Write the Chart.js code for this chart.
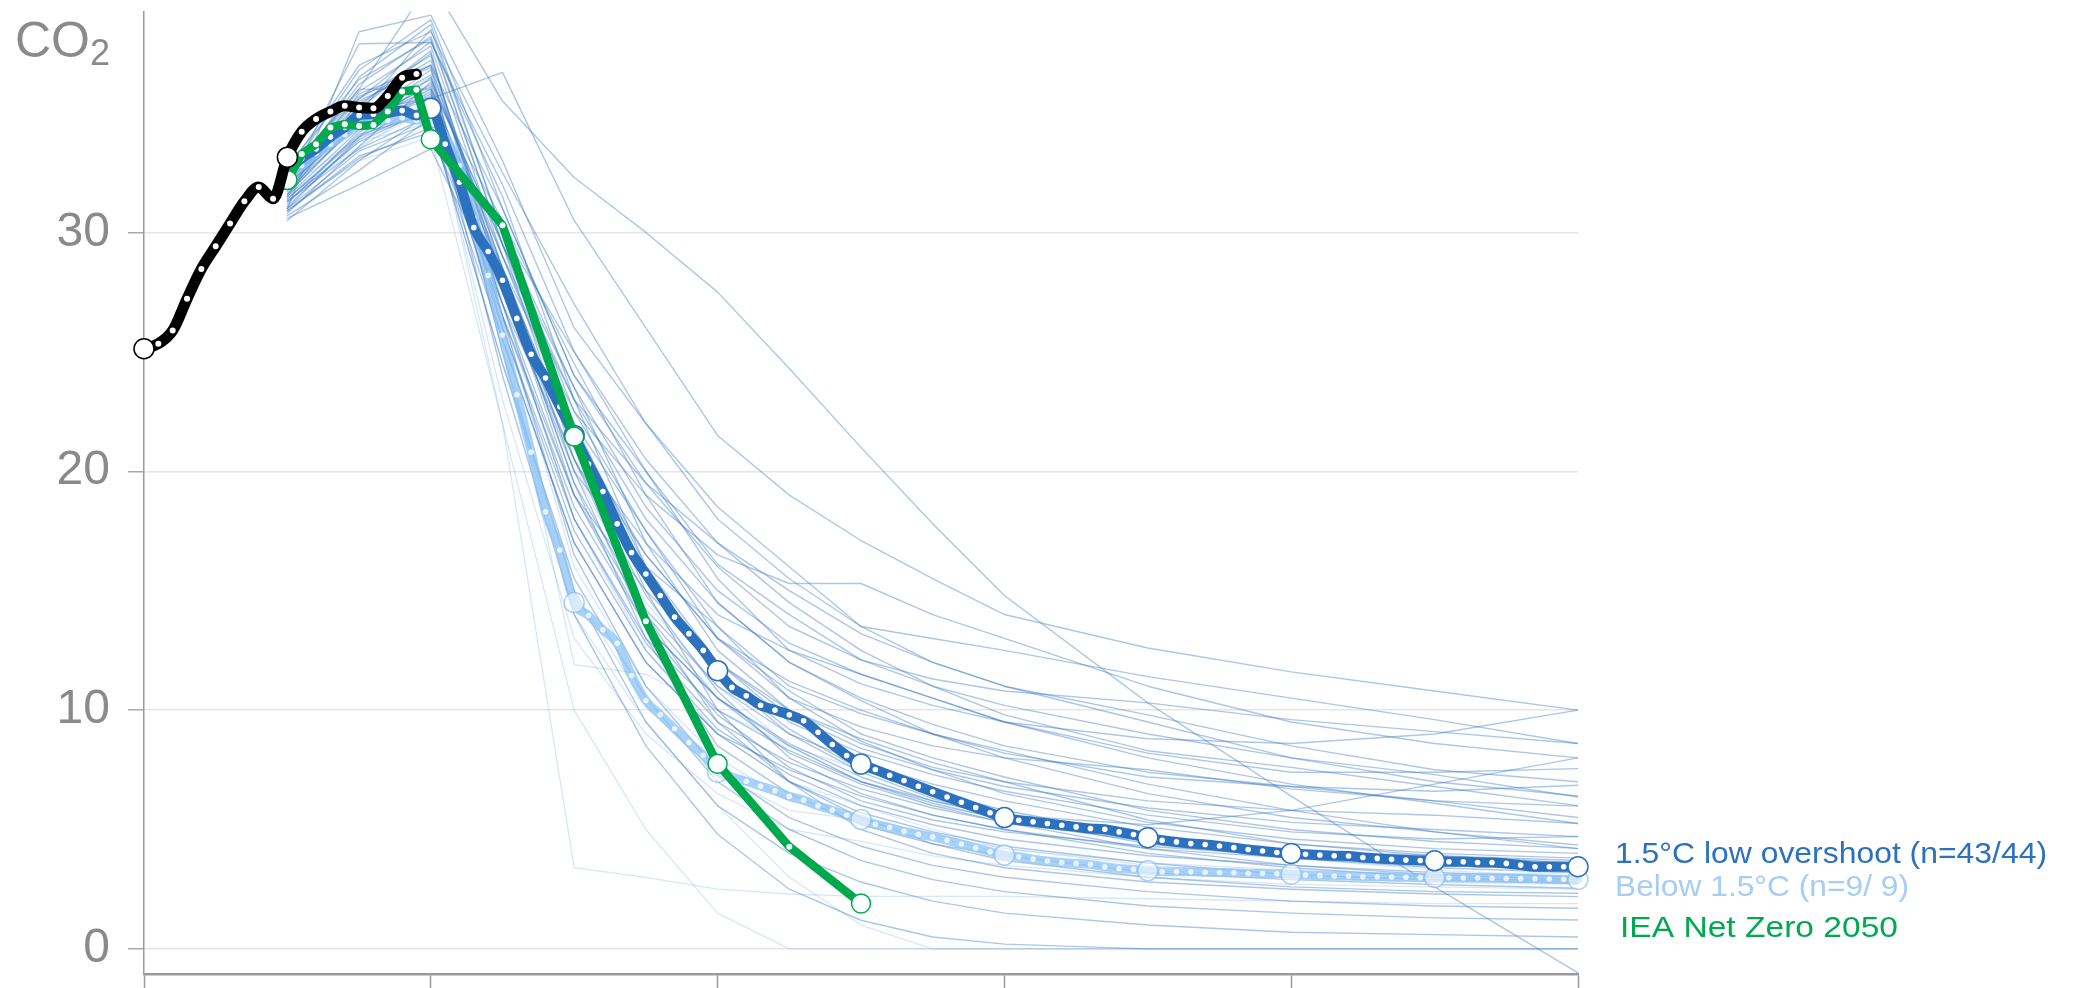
<!DOCTYPE html>
<html>
<head>
<meta charset="utf-8">
<script src="https://cdn.jsdelivr.net/npm/chart.js@4.4.1/dist/chart.umd.min.js"></script>
<style>
  html, body { margin: 0; padding: 0; background: #ffffff; }
  canvas { display: block; }
</style>
</head>
<body>
<canvas id="co2" width="2073" height="988"></canvas>
<script>
// ---- Axis ticks ----
const xTicks = [2000, 2020, 2040, 2060, 2080, 2100];
const yTicks = [0, 10, 20, 30];

// ---- Historical emissions (GtCO2) ----
const historyYears = [2000, 2001, 2002, 2003, 2004, 2005, 2006, 2007, 2008, 2009,
                      2010, 2011, 2012, 2013, 2014, 2015, 2016, 2017, 2018, 2019];
const historyValues = [25.13, 25.34, 25.89, 27.22, 28.47, 29.42, 30.37, 31.30, 31.90, 31.41,
                       33.15, 34.22, 34.75, 35.06, 35.30, 35.23, 35.20, 35.71, 36.48, 36.63];

// ---- IEA Net Zero 2050 pathway ----
const ieaYears = [2010, 2011, 2012, 2013, 2014, 2015, 2016, 2017, 2018, 2019,
                  2020, 2025, 2030, 2035, 2040, 2045, 2050];
const ieaValues = [32.20, 33.28, 33.69, 34.39, 34.53, 34.46, 34.50, 35.06, 35.90, 35.97,
                   33.90, 30.30, 21.45, 13.72, 7.75, 4.28, 1.90];

// ---- Annual medians, 2010-2100 ----
const medianStartYear = 2010;
const lowOvershootMedian = [
  32.6, 33.1, 33.5, 34.0, 34.4, 34.9, 34.95, 35.0, 35.1, 34.9,
  35.2, 33.7, 32.1, 30.2, 29.2, 28.0, 26.4, 24.9, 23.9, 22.7,
  21.5, 20.3, 19.15, 17.8, 16.6, 15.7, 14.8, 13.9, 13.2, 12.5,
  11.65, 10.95, 10.6, 10.2, 10.0, 9.8, 9.55, 9.07, 8.56, 8.1,
  7.74, 7.51, 7.27, 7.05, 6.81, 6.58, 6.36, 6.14, 5.92, 5.7,
  5.5, 5.39, 5.32, 5.25, 5.18, 5.11, 5.04, 5.01, 4.9, 4.79,
  4.66, 4.55, 4.48, 4.41, 4.37, 4.31, 4.24, 4.16, 4.1, 4.04,
  4.0, 3.96, 3.93, 3.9, 3.89, 3.83, 3.79, 3.75, 3.72, 3.7,
  3.69, 3.65, 3.65, 3.62, 3.62, 3.58, 3.51, 3.44, 3.44, 3.44,
  3.44
];
const below15Median = [
  32.3, 32.8, 33.3, 33.7, 34.1, 34.5, 34.6, 34.7, 34.8, 34.7,
  34.8, 34.0, 32.8, 30.6, 28.2, 25.7, 23.2, 20.8, 18.3, 16.7,
  14.5, 13.96, 13.36, 12.8, 11.45, 10.4, 9.8, 9.22, 8.64, 8.11,
  7.4, 7.2, 7.02, 6.82, 6.62, 6.39, 6.23, 5.99, 5.81, 5.6,
  5.42, 5.22, 5.08, 4.92, 4.8, 4.69, 4.55, 4.39, 4.23, 4.07,
  3.93, 3.86, 3.76, 3.68, 3.62, 3.58, 3.54, 3.44, 3.37, 3.33,
  3.27, 3.23, 3.23, 3.23, 3.21, 3.2, 3.19, 3.16, 3.16, 3.15,
  3.13, 3.09, 3.07, 3.05, 3.05, 3.02, 3.02, 3.01, 3.0, 2.99,
  2.99, 2.98, 2.97, 2.97, 2.96, 2.95, 2.95, 2.94, 2.93, 2.92,
  2.91
];

// ---- Individual scenarios ----
const scenarioYears = [2010, 2015, 2020, 2025, 2030, 2035, 2040, 2045, 2050, 2055, 2060, 2070, 2080, 2090, 2100];

// 1.5°C low overshoot runs
const lo01 = [32.5, 36.0, 40.5, 35.5, 32.3, 30.0, 27.5, 24.3, 21.0, 17.8, 14.8, 10.3, 6.4, 2.6, -1.0];
const lo02 = [31.0, 38.4, 39.1, 33.0, 26.0, 22.0, 18.5, 16.0, 13.5, 13.0, 12.5, 11.4, 10.5, 9.6, 8.6];
const lo03 = [32.0, 37.9, 37.95, 32.0, 25.0, 20.5, 17.0, 14.5, 12.5, 11.0, 9.8, 8.3, 7.6, 6.8, 6.0];
const lo04 = [32.8, 34.5, 35.6, 36.7, 30.5, 26.0, 21.5, 19.0, 17.1, 15.5, 14.0, 12.6, 11.6, 10.8, 10.0];
const lo05 = [31.5, 35.5, 37.0, 31.0, 24.0, 20.0, 16.1, 14.0, 12.1, 11.3, 10.8, 10.3, 9.6, 9.1, 8.6];
const lo06 = [32.0, 35.0, 38.5, 30.0, 22.5, 19.0, 16.5, 15.3, 15.3, 14.0, 13.0, 11.0, 9.5, 8.6, 8.0];
const lo07 = [31.0, 34.0, 36.5, 29.0, 23.0, 19.5, 17.0, 15.0, 13.2, 12.0, 11.0, 9.5, 8.0, 7.0, 6.4];
const lo08 = [30.5, 33.0, 35.0, 30.0, 25.0, 20.0, 15.5, 12.5, 11.1, 10.2, 9.5, 8.2, 7.4, 7.4, 7.55];
const lo09 = [32.2, 34.8, 36.8, 28.5, 21.0, 17.0, 14.0, 12.5, 11.5, 10.5, 9.5, 8.0, 6.9, 6.1, 5.25];
const lo10 = [31.8, 35.2, 37.5, 27.5, 20.0, 16.0, 13.5, 11.0, 9.85, 9.0, 8.3, 6.9, 5.8, 4.9, 4.2];
const lo11 = [32.5, 36.0, 36.0, 30.5, 24.5, 19.0, 14.5, 12.0, 10.4, 9.0, 8.0, 6.5, 5.5, 4.9, 4.35];
const lo12 = [31.2, 34.2, 35.8, 29.0, 22.0, 17.5, 13.0, 10.5, 9.3, 8.5, 8.0, 7.5, 6.7, 6.2, 5.98];
const lo13 = [30.8, 33.6, 36.3, 29.5, 23.5, 17.0, 12.5, 10.0, 8.6, 7.6, 7.0, 6.2, 5.8, 5.6, 5.25];
const lo14 = [32.6, 35.6, 38.0, 31.5, 23.0, 16.0, 12.0, 9.5, 8.2, 7.3, 6.6, 5.6, 4.9, 4.6, 4.7];
const lo15 = [31.6, 34.6, 36.0, 27.0, 19.0, 15.0, 12.0, 10.0, 8.8, 7.8, 7.0, 5.4, 4.4, 3.9, 3.6];
const lo16 = [32.0, 35.8, 37.0, 28.0, 21.0, 15.5, 11.5, 9.2, 7.5, 6.6, 5.8, 4.7, 4.1, 3.8, 3.5];
const lo17 = [31.4, 34.0, 35.4, 26.5, 18.5, 13.5, 10.5, 8.6, 7.2, 6.2, 5.5, 4.5, 4.0, 3.7, 3.5];
const lo18 = [30.9, 33.2, 34.2, 27.0, 20.5, 14.8, 10.8, 8.0, 6.5, 5.6, 5.0, 4.2, 3.8, 3.5, 3.3];
const lo19 = [32.4, 35.4, 37.2, 28.5, 20.0, 13.5, 9.8, 7.6, 6.2, 5.4, 4.9, 4.3, 3.9, 3.6, 3.4];
const lo20 = [31.7, 34.9, 36.6, 26.0, 17.5, 12.5, 9.2, 7.3, 6.0, 5.2, 4.6, 3.9, 3.5, 3.2, 3.0];
const lo21 = [32.1, 35.1, 35.6, 25.5, 17.0, 12.0, 9.0, 7.0, 5.7, 4.9, 4.3, 3.6, 3.1, 2.9, 2.74];
const lo22 = [31.3, 33.8, 35.2, 28.0, 19.5, 13.0, 8.5, 6.5, 5.2, 4.4, 3.9, 3.2, 2.9, 2.7, 2.54];
const lo23 = [30.6, 32.0, 33.5, 27.5, 21.5, 15.0, 10.0, 7.0, 5.5, 4.4, 3.7, 3.0, 2.6, 2.4, 2.33];
const lo24 = [32.3, 36.2, 38.2, 29.5, 20.5, 14.0, 9.5, 7.0, 5.0, 4.0, 3.4, 2.8, 2.5, 2.3, 2.19];
const lo25 = [31.9, 35.3, 37.6, 26.5, 16.5, 11.0, 7.5, 5.5, 4.3, 3.5, 3.0, 2.4, 2.0, 1.8, 1.7];
const lo26 = [31.0, 33.4, 34.6, 24.5, 15.5, 10.5, 7.0, 5.0, 3.7, 2.9, 2.4, 1.8, 1.5, 1.3, 1.21];
const lo27 = [32.7, 35.7, 36.9, 25.0, 15.0, 9.5, 6.0, 4.0, 2.8, 2.0, 1.5, 1.0, 0.7, 0.6, 0.5];
const lo28 = [31.5, 34.3, 35.9, 24.0, 14.0, 8.5, 4.8, 2.5, 1.2, 0.5, 0.2, 0.0, 0.0, 0.0, 0.0];
const lo29 = [32.0, 36.5, 38.7, 30.0, 23.5, 18.5, 15.0, 12.8, 11.5, 10.5, 9.5, 8.8, 8.6, 9.0, 10.0];
const lo30 = [31.8, 34.5, 36.2, 28.0, 19.0, 13.5, 10.5, 8.5, 7.0, 6.2, 5.6, 5.2, 5.8, 6.9, 8.0];
const lo31 = [32.5, 35.9, 37.8, 29.0, 21.5, 16.5, 13.0, 11.2, 10.0, 9.0, 8.2, 7.2, 6.8, 6.6, 6.85];
const lo32 = [31.1, 33.9, 35.3, 27.5, 20.5, 15.5, 12.0, 9.8, 8.4, 7.5, 6.8, 5.9, 5.3, 5.0, 4.7];
const lo33 = [30.7, 32.6, 34.8, 28.5, 22.5, 17.5, 13.5, 10.5, 8.7, 7.5, 6.5, 5.3, 4.6, 4.2, 4.0];
const lo34 = [32.2, 35.6, 37.4, 28.0, 19.5, 14.2, 11.0, 9.0, 7.8, 6.9, 6.2, 5.1, 4.4, 4.0, 3.8];
const lo35 = [31.6, 34.7, 36.1, 27.0, 18.0, 13.0, 10.0, 8.3, 7.0, 6.1, 5.4, 4.6, 4.1, 3.9, 3.7];
const lo36 = [32.8, 36.4, 38.1, 29.5, 22.0, 16.0, 11.5, 9.0, 7.4, 6.3, 5.5, 4.4, 3.8, 3.4, 3.2];
const lo37 = [31.3, 33.5, 34.9, 26.0, 18.0, 12.8, 9.5, 7.8, 6.7, 5.9, 5.3, 4.5, 4.1, 3.8, 3.6];
const lo38 = [30.9, 33.1, 34.4, 25.5, 17.0, 12.0, 9.0, 7.5, 6.4, 5.6, 5.0, 4.0, 3.4, 3.0, 2.8];
const lo39 = [32.4, 36.8, 38.9, 31.0, 24.0, 19.5, 16.0, 13.5, 12.1, 11.0, 10.2, 9.0, 8.0, 7.3, 6.36];
const lo40 = [31.8, 35.0, 36.4, 29.5, 23.0, 18.0, 14.5, 12.0, 10.5, 9.4, 8.5, 7.4, 6.8, 6.2, 5.5];
const lo41 = [32.0, 34.6, 35.7, 28.5, 21.0, 16.5, 13.0, 10.8, 9.0, 8.0, 7.2, 5.8, 5.0, 4.5, 4.21];
const lo42 = [31.4, 34.1, 35.0, 26.5, 19.0, 14.0, 10.5, 8.2, 6.9, 6.0, 5.3, 4.2, 3.5, 3.1, 2.9];
const lo43 = [32.6, 37.0, 38.4, 32.5, 27.0, 22.0, 18.0, 15.5, 13.5, 12.0, 11.0, 9.8, 8.5, 7.5, 7.0];
const lowOvershootRuns = [lo01, lo02, lo03, lo04, lo05, lo06, lo07, lo08, lo09, lo10,
  lo11, lo12, lo13, lo14, lo15, lo16, lo17, lo18, lo19, lo20,
  lo21, lo22, lo23, lo24, lo25, lo26, lo27, lo28, lo29, lo30,
  lo31, lo32, lo33, lo34, lo35, lo36, lo37, lo38, lo39, lo40,
  lo41, lo42, lo43];

// Below 1.5°C runs
const bl1 = [31.5, 33.5, 35.5, 22.0, 3.4, 3.0, 2.5, 2.3, 2.2, 2.2, 2.2, 2.1, 2.0, 1.9, 1.9];
const bl2 = [32.0, 34.5, 36.0, 26.0, 11.9, 11.5, 10.0, 8.5, 7.0, 6.0, 5.5, 4.5, 3.8, 3.3, 3.0];
const bl3 = [31.0, 33.0, 34.0, 22.0, 10.0, 5.0, 1.5, 0.0, 0.0, 0.0, 0.0, 0.0, 0.0, 0.0, 0.0];
const bl4 = [32.5, 35.0, 36.5, 25.0, 14.0, 9.5, 6.0, 3.0, 1.0, 0.0, 0.0, 0.0, 0.0, 0.0, 0.0];
const bl5 = [31.8, 34.0, 35.0, 27.0, 18.0, 12.5, 9.0, 7.0, 6.0, 5.0, 4.2, 3.6, 3.3, 3.1, 3.2];
const bl6 = [32.2, 34.8, 35.8, 26.5, 16.0, 11.0, 8.0, 6.2, 5.5, 4.8, 4.2, 3.5, 3.1, 2.9, 2.9];
const bl7 = [31.3, 33.8, 34.6, 24.5, 15.0, 10.2, 7.3, 5.8, 5.4, 4.7, 4.0, 3.3, 3.0, 2.8, 2.7];
const bl8 = [31.6, 33.6, 35.2, 23.0, 13.0, 9.0, 6.5, 5.0, 4.5, 3.9, 3.5, 3.0, 2.7, 2.6, 2.5];
const bl9 = [32.4, 35.3, 37.0, 28.5, 20.0, 14.5, 11.0, 8.5, 7.5, 6.5, 5.8, 4.5, 3.8, 3.5, 3.5];
const below15Runs = [bl1, bl2, bl3, bl4, bl5, bl6, bl7, bl8, bl9];

// ---- Labels ----
const yTitleMain = 'CO';
const yTitleSub = '2';
const seriesLabels = ['1.5°C low overshoot (n=43/44)', 'Below 1.5°C (n=9/ 9)', 'IEA Net Zero 2050'];

// ---- Styling ----
const FONT = '"Liberation Sans", Arial, Helvetica, sans-serif';
const C_DARK = '#2b71bd';
const C_LIGHT_LINE = 'rgba(140,195,245,0.75)';
const C_LIGHT_TEXT = '#a6cdf4';
const C_GREEN = '#00a94f';
const C_RUN_DARK = 'rgba(48,115,190,0.40)';
const C_RUN_LIGHT = 'rgba(120,175,235,0.30)';

const toPoints = (years, vals) => years.map((y, i) => ({ x: y, y: vals[i] }));
const medianYears = lowOvershootMedian.map((_, i) => medianStartYear + i);
const yearOf = c => (c && c.raw ? c.raw.x : null);
const isMedianMarker = c => { const y = yearOf(c); return y !== null && y >= 2020 && y % 10 === 0; };

const datasets = [];

// topmost first: history, IEA, medians, then the individual runs
datasets.push({
  data: toPoints(historyYears, historyValues),
  borderColor: '#000000', borderWidth: 11,
  cubicInterpolationMode: 'monotone', clip: false,
  pointRadius: c => (yearOf(c) === 2000 || yearOf(c) === 2010) ? 10 : 3,
  pointBackgroundColor: '#ffffff',
  pointBorderColor: c => (yearOf(c) === 2000 || yearOf(c) === 2010) ? '#000000' : 'rgba(0,0,0,0)',
  pointBorderWidth: c => (yearOf(c) === 2000 || yearOf(c) === 2010) ? 1.5 : 0
});

const ieaMarkers = [2010, 2020, 2030, 2040, 2050];
datasets.push({
  data: toPoints(ieaYears, ieaValues),
  borderColor: C_GREEN, borderWidth: 8.5, tension: 0, clip: false,
  pointRadius: c => ieaMarkers.includes(yearOf(c)) ? 9.5 : 3,
  pointBackgroundColor: '#ffffff',
  pointBorderColor: c => ieaMarkers.includes(yearOf(c)) ? C_GREEN : 'rgba(0,0,0,0)',
  pointBorderWidth: c => ieaMarkers.includes(yearOf(c)) ? 1.5 : 0
});

datasets.push({
  data: toPoints(medianYears, lowOvershootMedian),
  borderColor: C_DARK, borderWidth: 10,
  cubicInterpolationMode: 'monotone', clip: false,
  pointRadius: c => isMedianMarker(c) ? 10 : 2.8,
  pointBackgroundColor: '#ffffff',
  pointBorderColor: c => isMedianMarker(c) ? C_DARK : 'rgba(0,0,0,0)',
  pointBorderWidth: c => isMedianMarker(c) ? 1.5 : 0
});

datasets.push({
  data: toPoints(medianYears, below15Median),
  borderColor: C_LIGHT_LINE, borderWidth: 9,
  cubicInterpolationMode: 'monotone', clip: false,
  pointRadius: c => isMedianMarker(c) ? 10 : 2.8,
  pointBackgroundColor: c => isMedianMarker(c) ? 'rgba(255,255,255,0.55)' : 'rgba(255,255,255,0.75)',
  pointBorderColor: c => isMedianMarker(c) ? 'rgba(140,190,240,0.7)' : 'rgba(0,0,0,0)',
  pointBorderWidth: c => isMedianMarker(c) ? 1.5 : 0
});

lowOvershootRuns.forEach(run => datasets.push({
  data: toPoints(scenarioYears, run),
  borderColor: C_RUN_DARK, borderWidth: 1.4, pointRadius: 0, tension: 0
}));
below15Runs.forEach(run => datasets.push({
  data: toPoints(scenarioYears, run),
  borderColor: C_RUN_LIGHT, borderWidth: 1.3, pointRadius: 0, tension: 0
}));

// Draws a label whose glyphs are stretched to span a given width
function fitText(g, text, x, y, width) {
  const w = g.measureText(text).width;
  g.save();
  g.translate(x, y);
  g.scale(width / w, 1);
  g.fillText(text, 0, 0);
  g.restore();
}

// Title and end-of-line labels drawn on top of the plot
const textPlugin = {
  id: 'textPlugin',
  afterDraw(chart) {
    const g = chart.ctx;
    g.save();
    g.textAlign = 'left';
    g.textBaseline = 'alphabetic';
    g.fillStyle = '#8a8a8a';
    g.font = '50px ' + FONT;
    g.fillText(yTitleMain, 15, 57);
    const w = g.measureText(yTitleMain).width;
    g.font = '36px ' + FONT;
    g.fillText(yTitleSub, 15 + w, 65);

    g.font = '29px ' + FONT;
    g.fillStyle = C_DARK;
    fitText(g, seriesLabels[0], 1615, 863, 432);
    g.fillStyle = C_LIGHT_TEXT;
    fitText(g, seriesLabels[1], 1615, 896, 294);
    g.fillStyle = C_GREEN;
    fitText(g, seriesLabels[2], 1620, 937, 278);
    g.restore();
  }
};

new Chart(document.getElementById('co2'), {
  type: 'line',
  data: { datasets },
  options: {
    responsive: false,
    animation: false,
    events: [],
    layout: { padding: { left: 0, right: 495, top: 10, bottom: 0 } },
    plugins: { legend: { display: false }, tooltip: { enabled: false } },
    elements: { line: { borderCapStyle: 'round', borderJoinStyle: 'round', fill: false } },
    scales: {
      x: {
        type: 'linear', min: 2000, max: 2100, position: 'bottom',
        afterBuildTicks: s => { s.ticks = xTicks.map(v => ({ value: v })); },
        afterFit: s => { s.height = 14; s.paddingLeft = 0; s.paddingRight = 0; s.paddingTop = 0; s.paddingBottom = 0; },
        ticks: { display: false },
        grid: { drawOnChartArea: false, drawTicks: true, tickLength: 14, tickColor: '#9a9a9a', tickWidth: 1.5 },
        border: { display: true, color: '#9a9a9a', width: 2.5 }
      },
      y: {
        type: 'linear', min: -1.05, max: 39.25, position: 'left',
        afterBuildTicks: s => { s.ticks = yTicks.map(v => ({ value: v })); },
        afterFit: s => { s.width = 144; s.paddingTop = 0; s.paddingBottom = 0; s.paddingLeft = 0; s.paddingRight = 0; },
        ticks: { color: '#8a8a8a', font: { family: FONT, size: 48 }, padding: 18 },
        grid: { color: '#e6e6e6', lineWidth: 1.5, tickLength: 16, tickColor: '#a8a8a8', tickWidth: 1.5 },
        border: { display: true, color: '#9a9a9a', width: 1.5 }
      }
    }
  },
  plugins: [textPlugin]
});
</script>
</body>
</html>
